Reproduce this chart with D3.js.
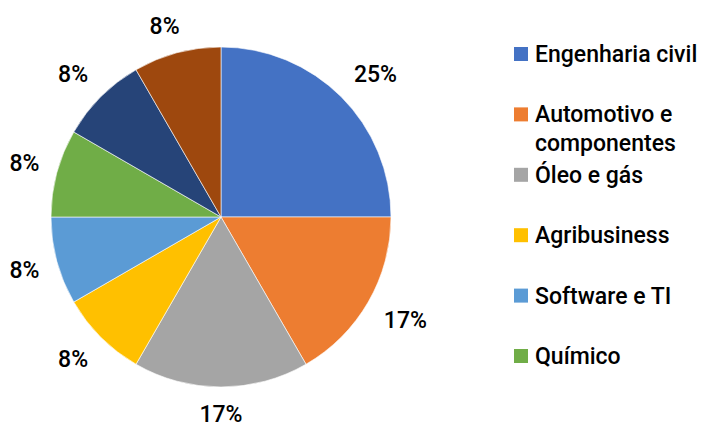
<!DOCTYPE html>
<html><head><meta charset="utf-8">
<script src="https://cdn.jsdelivr.net/npm/d3@7"></script>
<style>html,body{margin:0;padding:0;background:#fff;}</style>
</head><body>
<svg id="c" width="704" height="428"></svg>
<script>
const categories = ["Engenharia civil","Automotivo e componentes","Óleo e gás","Agribusiness","Software e TI","Químico","Outro 1","Outro 2"];
const values = [3,2,2,1,1,1,1,1];
const colors = ["#4472C4","#ED7D31","#A5A5A5","#FFC000","#5B9BD5","#70AD47","#264478","#9E480E"];
const legendShown = 6;
const legendLines = [["Engenharia civil"],["Automotivo e","componentes"],["Óleo e gás"],["Agribusiness"],["Software e TI"],["Químico"]];

const svg = d3.select("#c");
const font = "Roboto, 'DejaVu Sans', sans-serif";
const cx = 221, cy = 217, R = 170;
const total = d3.sum(values);
const pie = d3.pie().sort(null).value(d => d)(values);
const arc = d3.arc().innerRadius(0).outerRadius(R);
const g = svg.append("g").attr("transform", `translate(${cx},${cy})`);
g.selectAll("path").data(pie).join("path")
  .attr("d", arc).attr("fill", (d,i) => colors[i])
  .attr("stroke", "#fff").attr("stroke-width", 0.6);

const fs = 23;
const clamp = v => Math.max(-1, Math.min(1, v));
const labels = g.selectAll("text.lbl").data(pie).join("text")
  .attr("class","lbl")
  .attr("font-family", font).attr("font-size", fs).attr("font-weight", 500).attr("fill","#000")
  .attr("text-anchor","middle").attr("dominant-baseline","central")
  .text(d => Math.round(d.value / total * 100) + "%");
labels.each(function(d){
  const bb = this.getBBox();
  const a = (d.startAngle + d.endAngle) / 2;
  const s = Math.sin(a), c = Math.cos(a);
  const r = R + 18;
  const hh = fs * 0.8 / 2;
  const x = s * r + clamp(2 * s) * bb.width / 2;
  const y = -c * r - clamp(2 * c) * hh;
  d3.select(this).attr("x", x).attr("y", y);
});

const ly = d3.scalePoint().domain(d3.range(legendShown)).range([62, 364]);
const lg = svg.append("g");
for (let i = 0; i < legendShown; i++) {
  const y = ly(i);
  lg.append("rect").attr("x", 514).attr("y", y - 15).attr("width", 14).attr("height", 14).attr("fill", colors[i]);
  const t = lg.append("text").attr("x", 535).attr("y", y)
    .attr("font-family", font).attr("font-size", fs).attr("font-weight", 500).attr("fill","#000");
  legendLines[i].forEach((ln, j) => t.append("tspan").attr("x", 535).attr("dy", j === 0 ? 0 : 29).text(ln));
}
</script>
</body></html>
